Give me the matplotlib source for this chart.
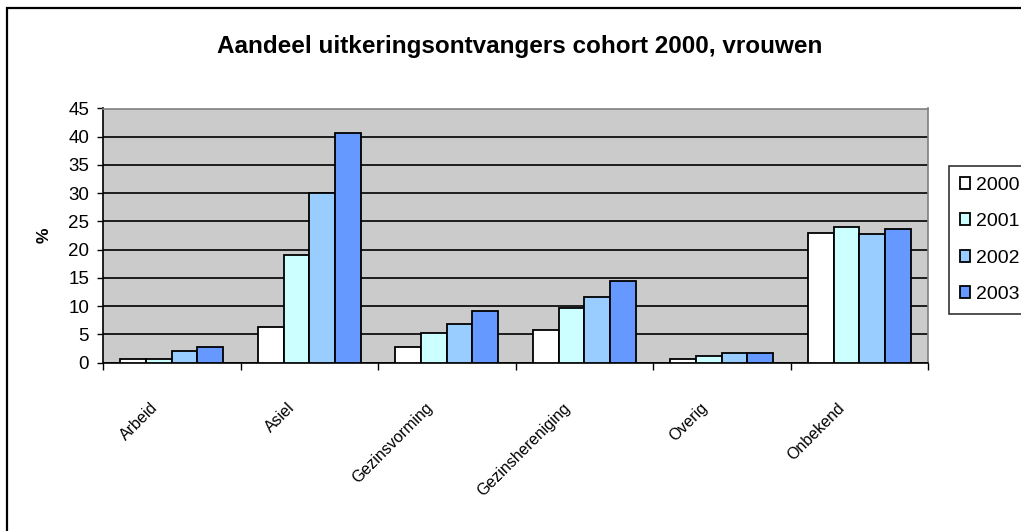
import matplotlib
matplotlib.use("Agg")
import matplotlib.pyplot as plt
import numpy as np
from matplotlib.patches import Rectangle
from matplotlib.transforms import blended_transform_factory, offset_copy

categories = ["Arbeid", "Asiel", "Gezinsvorming", "Gezinshereniging", "Overig", "Onbekend"]
years = ["2000", "2001", "2002", "2003"]
v2000 = [0.7, 6.3, 2.8, 5.8, 0.7, 23.0]
v2001 = [0.7, 19.1, 5.3, 9.6, 1.1, 24.1]
v2002 = [2.1, 30.0, 6.8, 11.7, 1.8, 22.7]
v2003 = [2.8, 40.7, 9.2, 14.5, 1.8, 23.7]
series = [v2000, v2001, v2002, v2003]
colors = ["#FFFFFF", "#CCFFFF", "#99CCFF", "#6699FF"]
yticks = list(range(0, 50, 5))

plt.rcParams['font.family'] = ['Liberation Sans', 'DejaVu Sans']

W, H = 1021, 531
fig = plt.figure(figsize=(W / 100, H / 100), dpi=100)
fig.patch.set_facecolor("white")

# outer chart border
fig.add_artist(Rectangle((7 / W, -0.01), 1.1, 1 - 8 / H + 0.01, transform=fig.transFigure,
                         fill=False, edgecolor="black", linewidth=1.6))

ax = fig.add_axes([103 / W, 1 - 362.7 / H, (928 - 103) / W, (362.7 - 108.5) / H])
ax.set_facecolor("#CBCBCB")

n = len(categories)
x = np.arange(n)
bw = 0.187
for i, (vals, col, yr) in enumerate(zip(series, colors, years)):
    ax.bar(x + (i - 1.5) * bw, vals, width=bw, color=col, edgecolor="black",
           linewidth=1.3, label=yr, zorder=3)

ax.set_xlim(-0.5, n - 0.5)
ax.set_ylim(0, 45)
ax.set_yticks(yticks)
ax.set_yticklabels([str(t) for t in yticks], fontsize=13.5)
ax.yaxis.grid(True, color="black", linewidth=1.2, zorder=1)
ax.set_axisbelow(True)

ax.set_xticks(np.arange(n + 1) - 0.5)
ax.set_xticklabels([])
ax.tick_params(axis="x", direction="out", length=5, width=1, color="black")
ax.tick_params(axis="y", direction="out", length=4.5, width=1, color="black", pad=5.5)

for s in ["top", "right"]:
    ax.spines[s].set_color("#808080")
    ax.spines[s].set_linewidth(1.2)
for s in ["left", "bottom"]:
    ax.spines[s].set_color("black")
    ax.spines[s].set_linewidth(1.2)

# category labels, rotated 45 degrees, ending just left of each category centre
trans = blended_transform_factory(ax.transData, fig.transFigure)
trans = offset_copy(trans, fig=fig, x=-22, y=0, units="dots")
for i, cat in enumerate(categories):
    ax.text(x[i], 1 - 400 / H, cat, transform=trans, rotation=45,
            ha="right", va="top", fontsize=11.5, rotation_mode="anchor")

fig.text(44 / W, 1 - 235 / H, "%", rotation=90, ha="center", va="center",
         fontsize=12.5, fontweight="bold")

fig.text(520 / W, 1 - 47 / H, "Aandeel uitkeringsontvangers cohort 2000, vrouwen",
         ha="center", va="center", fontsize=17.5, fontweight="bold")

leg = ax.legend(loc="upper left", bbox_to_anchor=(949 / W, 1 - 166 / H),
                bbox_transform=fig.transFigure, fontsize=14, frameon=True,
                fancybox=False, edgecolor="black", handlelength=0.55, handleheight=0.55,
                handletextpad=0.3, labelspacing=1.0, borderpad=0.55, borderaxespad=0)
leg.get_frame().set_linewidth(1.2)

fig.savefig("out.png", dpi=100, facecolor="white")
